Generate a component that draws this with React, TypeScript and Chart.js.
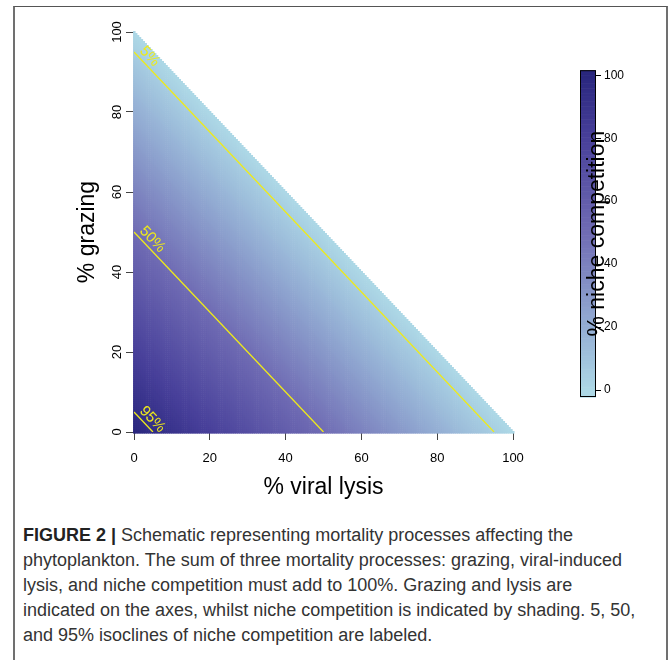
import React, { useEffect, useRef } from "react";
import { Chart, registerables } from "chart.js";

Chart.register(...registerables);

// ---- data ----
const LYSIS_TICKS = [0, 20, 40, 60, 80, 100];
const GRAZING_TICKS = [0, 20, 40, 60, 80, 100];
const NICHE_TICKS = [0, 20, 40, 60, 80, 100];
const ISOCLINE_LEVELS = [5, 50, 95];
const ISOCLINE_LABELS = ["5%", "50%", "95%"];
const TOTAL_MORTALITY = 100; // grazing + lysis + niche = 100
const GRID_STEP = 0.5;
const NICHE_RANGE = [-2.2, 101.6];
const PALETTE_STOPS = [0, 20, 50, 80, 100];
const PALETTE_COLORS = [
  [173, 216, 230],
  [148, 174, 212],
  [112, 108, 180],
  [72, 64, 154],
  [42, 39, 126],
];

const FONT = '"Liberation Sans", Arial, Helvetica, sans-serif';
const YELLOW = "#eeea1a";

function nicheColor(v: number): string {
  const t = Math.max(PALETTE_STOPS[0], Math.min(PALETTE_STOPS[PALETTE_STOPS.length - 1], v));
  let i = 0;
  while (i < PALETTE_STOPS.length - 2 && t > PALETTE_STOPS[i + 1]) i++;
  const f = (t - PALETTE_STOPS[i]) / (PALETTE_STOPS[i + 1] - PALETTE_STOPS[i]);
  const a = PALETTE_COLORS[i];
  const b = PALETTE_COLORS[i + 1];
  const c = a.map((av, k) => Math.round(av + (b[k] - av) * f));
  return `rgb(${c[0]},${c[1]},${c[2]})`;
}

const heatmapPlugin = {
  id: "heatmap",
  beforeDatasetsDraw(chart: any) {
    const { ctx } = chart;
    const xs = chart.scales.x;
    const ys = chart.scales.y;
    ctx.save();
    const n = Math.round(TOTAL_MORTALITY / GRID_STEP);
    for (let i = 0; i <= n; i++) {
      const lysis = i * GRID_STEP;
      const x0 = xs.getPixelForValue(lysis - GRID_STEP / 2);
      const x1 = xs.getPixelForValue(lysis + GRID_STEP / 2);
      for (let j = 0; j <= n - i; j++) {
        const grazing = j * GRID_STEP;
        const niche = TOTAL_MORTALITY - lysis - grazing;
        const y0 = ys.getPixelForValue(grazing + GRID_STEP / 2);
        const y1 = ys.getPixelForValue(grazing - GRID_STEP / 2);
        ctx.fillStyle = nicheColor(niche);
        ctx.fillRect(x0, y0, x1 - x0 + 0.6, y1 - y0 + 0.6);
      }
    }
    ctx.restore();
  },
  afterDatasetsDraw(chart: any) {
    const { ctx } = chart;
    const xs = chart.scales.x;
    const ys = chart.scales.y;
    ctx.save();
    ctx.fillStyle = YELLOW;
    ctx.font = `15px ${FONT}`;
    ctx.textAlign = "left";
    ctx.textBaseline = "alphabetic";
    ISOCLINE_LEVELS.forEach((level, k) => {
      const g = TOTAL_MORTALITY - level;
      const px0 = xs.getPixelForValue(0);
      const py0 = ys.getPixelForValue(g);
      const px1 = xs.getPixelForValue(g);
      const py1 = ys.getPixelForValue(0);
      const ang = Math.atan2(py1 - py0, px1 - px0);
      const along = 3;
      const up = 4;
      const ax = px0 + Math.cos(ang) * along + Math.sin(ang) * up;
      const ay = py0 + Math.sin(ang) * along - Math.cos(ang) * up;
      ctx.save();
      ctx.translate(ax, ay);
      ctx.rotate(ang);
      ctx.fillText(ISOCLINE_LABELS[k], 0, 0);
      ctx.restore();
    });
    ctx.restore();
  },
  afterDraw(chart: any) {
    const { ctx, chartArea } = chart;
    const ys = chart.scales.y;
    ctx.save();
    ctx.fillStyle = "#000";
    // y tick labels (rotated)
    ctx.font = `13px ${FONT}`;
    ctx.textAlign = "center";
    ctx.textBaseline = "middle";
    ys.ticks.forEach((t: any) => {
      const py = ys.getPixelForValue(t.value);
      ctx.save();
      ctx.translate(chartArea.left - 17, py);
      ctx.rotate(-Math.PI / 2);
      ctx.fillText(String(t.value), 0, 0);
      ctx.restore();
    });
    // axis titles
    ctx.font = `23px ${FONT}`;
    ctx.fillText("% viral lysis", (chartArea.left + chartArea.right) / 2, chartArea.bottom + 56);
    ctx.save();
    ctx.translate(chartArea.left - 46, (chartArea.top + chartArea.bottom) / 2);
    ctx.rotate(-Math.PI / 2);
    ctx.fillText("% grazing", 0, 0);
    ctx.restore();
    ctx.restore();
  },
};

const colorbarPlugin = {
  id: "colorbar",
  beforeDatasetsDraw(chart: any) {
    const { ctx, chartArea } = chart;
    const ys = chart.scales.y;
    ctx.save();
    const steps = 200;
    const lo = NICHE_RANGE[0];
    const hi = NICHE_RANGE[1];
    for (let i = 0; i < steps; i++) {
      const v0 = lo + ((hi - lo) * i) / steps;
      const v1 = lo + ((hi - lo) * (i + 1)) / steps;
      const y0 = ys.getPixelForValue(v1);
      const y1 = ys.getPixelForValue(v0);
      ctx.fillStyle = nicheColor((v0 + v1) / 2);
      ctx.fillRect(chartArea.left, y0, chartArea.right - chartArea.left, y1 - y0 + 0.6);
    }
    ctx.strokeStyle = "#000";
    ctx.lineWidth = 1;
    ctx.strokeRect(chartArea.left + 0.5, chartArea.top + 0.5, chartArea.right - chartArea.left - 1, chartArea.bottom - chartArea.top - 1);
    ctx.restore();
  },
  afterDraw(chart: any) {
    const { ctx, chartArea } = chart;
    ctx.save();
    ctx.fillStyle = "#000";
    ctx.font = `23px ${FONT}`;
    ctx.textAlign = "center";
    ctx.textBaseline = "middle";
    ctx.translate(chartArea.right + 2, (chartArea.top + chartArea.bottom) / 2);
    ctx.rotate(-Math.PI / 2);
    ctx.fillText("% niche competition", 0, 0);
    ctx.restore();
  },
};

function MainChart() {
  const ref = useRef<HTMLCanvasElement>(null);
  useEffect(() => {
    if (!ref.current) return;
    const chart = new Chart(ref.current, {
      type: "scatter",
      data: {
        datasets: ISOCLINE_LEVELS.map((level) => ({
          type: "line" as const,
          data: [
            { x: 0, y: TOTAL_MORTALITY - level },
            { x: TOTAL_MORTALITY - level, y: 0 },
          ],
          borderColor: YELLOW,
          borderWidth: 1.3,
          pointRadius: 0,
          showLine: true,
          fill: false,
        })),
      },
      options: {
        animation: false,
        responsive: false,
        events: [],
        layout: { padding: { left: 0, top: 32, right: 156, bottom: 0 } },
        plugins: { legend: { display: false }, tooltip: { enabled: false } },
        scales: {
          x: {
            type: "linear",
            min: 0,
            max: 100,
            afterBuildTicks: (s: any) => {
              s.ticks = LYSIS_TICKS.map((v) => ({ value: v }));
            },
            afterFit: (s: any) => {
              s.height = 78;
            },
            ticks: { font: { family: FONT, size: 13 }, color: "#000", padding: 11, maxRotation: 0 },
            grid: { drawOnChartArea: false, drawTicks: true, tickLength: 8, color: "#444", lineWidth: 1 },
            border: { display: false },
          },
          y: {
            type: "linear",
            min: 0,
            max: 100,
            afterBuildTicks: (s: any) => {
              s.ticks = GRAZING_TICKS.map((v) => ({ value: v }));
            },
            afterFit: (s: any) => {
              s.width = 134;
            },
            ticks: { display: false },
            grid: { drawOnChartArea: false, drawTicks: true, tickLength: 8, color: "#444", lineWidth: 1 },
            border: { display: false },
          },
        },
      },
      plugins: [heatmapPlugin],
    } as any);
    return () => chart.destroy();
  }, []);
  return (
    <canvas
      ref={ref}
      width={669}
      height={510}
      style={{ position: "absolute", left: 0, top: 0, width: 669, height: 510 }}
    />
  );
}

function ColorBar() {
  const ref = useRef<HTMLCanvasElement>(null);
  useEffect(() => {
    if (!ref.current) return;
    const chart = new Chart(ref.current, {
      type: "scatter",
      data: { datasets: [{ data: [] }] },
      options: {
        animation: false,
        responsive: false,
        events: [],
        layout: { padding: { left: 10, top: 10, right: 0, bottom: 13 } },
        plugins: { legend: { display: false }, tooltip: { enabled: false } },
        scales: {
          x: { display: false, min: 0, max: 1 },
          y: {
            type: "linear",
            position: "right",
            min: NICHE_RANGE[0],
            max: NICHE_RANGE[1],
            afterBuildTicks: (s: any) => {
              s.ticks = NICHE_TICKS.map((v) => ({ value: v }));
            },
            afterFit: (s: any) => {
              s.width = 73;
            },
            ticks: { font: { family: FONT, size: 12 }, color: "#000", padding: 3 },
            grid: { drawOnChartArea: false, drawTicks: true, tickLength: 5, color: "#000", lineWidth: 1 },
            border: { display: false },
          },
        },
      },
      plugins: [colorbarPlugin],
    } as any);
    return () => chart.destroy();
  }, []);
  return (
    <canvas
      ref={ref}
      width={99}
      height={350}
      style={{ position: "absolute", left: 570, top: 60, width: 99, height: 350 }}
    />
  );
}

const CAPTION_LINES = [
  "Schematic representing mortality processes affecting the",
  "phytoplankton. The sum of three mortality processes: grazing, viral-induced",
  "lysis, and niche competition must add to 100%. Grazing and lysis are",
  "indicated on the axes, whilst niche competition is indicated by shading. 5, 50,",
  "and 95% isoclines of niche competition are labeled.",
];

export default function App() {
  return (
    <div
      style={{
        position: "absolute",
        left: 0,
        top: 0,
        width: 669,
        height: 660,
        overflow: "hidden",
        background: "#fff",
      }}
    >
      <div
        style={{
          position: "absolute",
          left: 13,
          top: 6,
          width: 651,
          height: 660,
          borderLeft: "2px solid #707070",
          borderRight: "2px solid #707070",
          borderTop: "1px solid #555",
        }}
      />
      <MainChart />
      <ColorBar />
      <div
        style={{
          position: "absolute",
          left: 23,
          top: 523,
          width: 640,
          fontFamily: FONT,
          fontSize: 18,
          lineHeight: "25px",
          color: "#333",
          whiteSpace: "nowrap",
        }}
      >
        {CAPTION_LINES.map((line, i) => (
          <div key={i}>
            {i === 0 ? <b style={{ color: "#222" }}>FIGURE 2 | </b> : null}
            {line}
          </div>
        ))}
      </div>
    </div>
  );
}
